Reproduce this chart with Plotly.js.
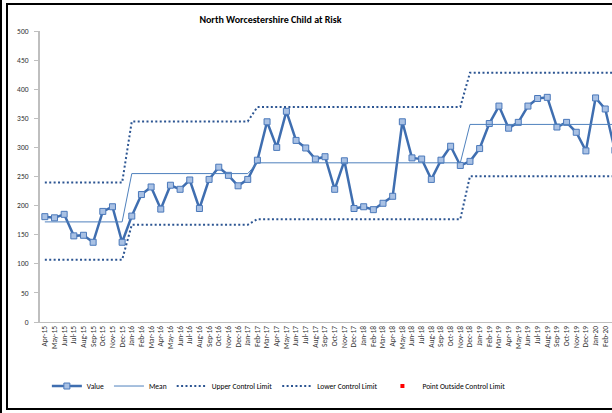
<!DOCTYPE html>
<html>
<head>
<meta charset="utf-8">
<script src="https://cdn.plot.ly/plotly-3.0.1.min.js"></script>
<style>
  html, body { margin: 0; padding: 0; background: #fff; }
  #wrap { position: relative; width: 612px; height: 413px; overflow: hidden; }
  #chart { position: absolute; left: 0; top: 0; width: 612px; height: 413px; }
  .edge { position: absolute; background: #000; pointer-events: none; }
</style>
</head>
<body>
<div id="wrap">
  <div id="chart"></div>
  <div class="edge" style="left:0;top:0;width:2px;height:413px;"></div>
  <div class="edge" style="left:6px;top:3px;width:2px;height:407px;"></div>
  <div class="edge" style="left:6px;top:3px;width:606px;height:2px;"></div>
  <div class="edge" style="left:6px;top:408px;width:606px;height:2px;"></div>
</div>
<script>
const months = ["Apr-15","May-15","Jun-15","Jul-15","Aug-15","Sep-15","Oct-15","Nov-15","Dec-15",
  "Jan-16","Feb-16","Mar-16","Apr-16","May-16","Jun-16","Jul-16","Aug-16","Sep-16","Oct-16","Nov-16","Dec-16",
  "Jan-17","Feb-17","Mar-17","Apr-17","May-17","Jun-17","Jul-17","Aug-17","Sep-17","Oct-17","Nov-17","Dec-17",
  "Jan-18","Feb-18","Mar-18","Apr-18","May-18","Jun-18","Jul-18","Aug-18","Sep-18","Oct-18","Nov-18","Dec-18",
  "Jan-19","Feb-19","Mar-19","Apr-19","May-19","Jun-19","Jul-19","Aug-19","Sep-19","Oct-19","Nov-19","Dec-19",
  "Jan-20","Feb-20","Mar-20"];

const values = [181,179,185,148,149,137,190,198,137,
  182,219,232,194,235,228,244,195,245,266,252,234,
  245,278,344,300,362,312,299,280,284,228,277,195,
  198,193,204,216,344,282,280,245,278,302,269,276,
  298,341,371,333,343,371,384,386,335,343,326,294,
  385,366,295];

const meanVals = [172,172,172,172,172,172,172,172,172,
  255,255,255,255,255,255,255,255,255,255,255,255,
  255,273.5,273.5,273.5,273.5,273.5,273.5,273.5,273.5,273.5,273.5,273.5,
  273.5,273.5,273.5,273.5,273.5,273.5,273.5,273.5,273.5,273.5,273.5,339.5,
  339.5,339.5,339.5,339.5,339.5,339.5,339.5,339.5,339.5,339.5,339.5,339.5,
  339.5,339.5,339.5];

const uclVals = [239.5,239.5,239.5,239.5,239.5,239.5,239.5,239.5,239.5,
  344.7,344.7,344.7,344.7,344.7,344.7,344.7,344.7,344.7,344.7,344.7,344.7,
  344.7,369.5,369.5,369.5,369.5,369.5,369.5,369.5,369.5,369.5,369.5,369.5,
  369.5,369.5,369.5,369.5,369.5,369.5,369.5,369.5,369.5,369.5,369.5,428.3,
  428.3,428.3,428.3,428.3,428.3,428.3,428.3,428.3,428.3,428.3,428.3,428.3,
  428.3,428.3,428.3];

const lclVals = [107,107,107,107,107,107,107,107,107,
  167,167,167,167,167,167,167,167,167,167,167,167,
  167,176.7,176.7,176.7,176.7,176.7,176.7,176.7,176.7,176.7,176.7,176.7,
  176.7,176.7,176.7,176.7,176.7,176.7,176.7,176.7,176.7,176.7,176.7,250.5,
  250.5,250.5,250.5,250.5,250.5,250.5,250.5,250.5,250.5,250.5,250.5,250.5,
  250.5,250.5,250.5];

const outsideVals = months.map(() => null);

const yTicks = [0,50,100,150,200,250,300,350,400,450,500];

const FONT = "Carlito, Lato, 'Liberation Sans', sans-serif";

const traces = [
  { x: months, y: values, name: "Value", type: "scatter", mode: "lines+markers",
    line: { color: "#3f6eb0", width: 2.5 },
    marker: { symbol: "square", size: 6, color: "#a9c1e4", line: { color: "#4a78ba", width: 1 } } },
  { x: months, y: meanVals, name: "Mean", type: "scatter", mode: "lines",
    line: { color: "#4f81bd", width: 1 } },
  { x: months, y: uclVals, name: "Upper Control Limit", type: "scatter", mode: "lines",
    line: { color: "#2c5592", width: 2, dash: "2px,2.4px" } },
  { x: months, y: lclVals, name: "Lower Control Limit", type: "scatter", mode: "lines",
    line: { color: "#2c5592", width: 2, dash: "2px,2.4px" } },
  { x: months, y: outsideVals, name: "Point Outside Control Limit", type: "scatter", mode: "markers",
    marker: { symbol: "square", size: 4, color: "#ff0000" } }
];

const layout = {
  width: 612, height: 413,
  margin: { l: 40, r: 0, t: 31, b: 91, pad: 0 },
  paper_bgcolor: "#ffffff", plot_bgcolor: "#ffffff",
  font: { family: FONT, size: 7, color: "#404040" },
  showlegend: true,
  title: { text: "<b>North Worcestershire Child at Risk</b>", font: { family: FONT, size: 10, color: "#000000" },
    xref: "container", yref: "container", x: 0.442, xanchor: "center", y: 0.953, yanchor: "middle" },
  xaxis: { type: "category", range: [-0.5, 58.7], tickangle: -90, showgrid: false, zeroline: false,
    showline: true, linecolor: "#bfbfbf", linewidth: 1, ticks: "", tickfont: { family: FONT, size: 7.5, color: "#333333" },
    automargin: false },
  yaxis: { range: [0, 500], tickvals: yTicks, showgrid: false, zeroline: false, showline: true,
    linecolor: "#bfbfbf", linewidth: 2, ticks: "outside", ticklen: 4, tickcolor: "#bfbfbf",
    ticklabelstandoff: 4,
    tickfont: { family: FONT, size: 7.5, color: "#333333" }, automargin: false },
  legend: { orientation: "h", x: 0.012, xanchor: "left", y: -0.22, yanchor: "middle",
    font: { family: FONT, size: 7.5, color: "#000000" }, bgcolor: "rgba(0,0,0,0)" }
};

Plotly.newPlot("chart", traces, layout, { displayModeBar: false, staticPlot: true });
</script>
</body>
</html>
